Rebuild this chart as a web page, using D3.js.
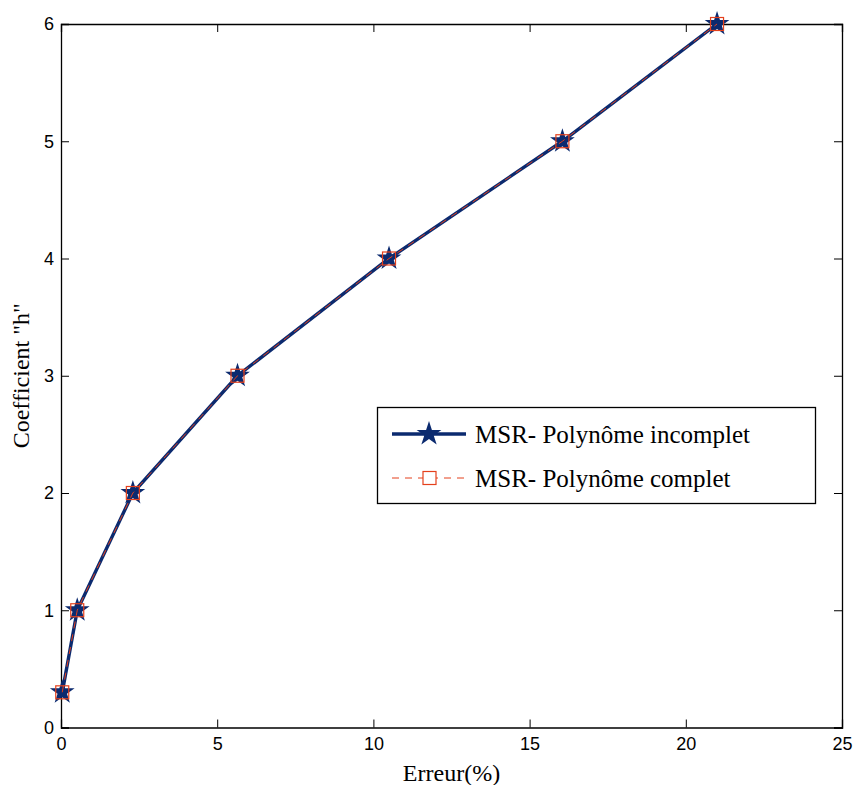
<!DOCTYPE html>
<html><head><meta charset="utf-8">
<script src="https://cdn.jsdelivr.net/npm/d3@7"></script>
<style>body{margin:0;background:#fff}</style>
</head><body>
<svg id="c" width="855" height="785"></svg>
<script>
const errIncomplet = [0.04, 0.52, 2.3, 5.65, 10.5, 16.05, 21.0];
const hIncomplet   = [0.3, 1, 2, 3, 4, 5, 6];
const errComplet   = [0.04, 0.52, 2.3, 5.65, 10.5, 16.05, 21.0];
const hComplet     = [0.3, 1, 2, 3, 4, 5, 6];
const xTicks = [0, 5, 10, 15, 20, 25];
const yTicks = [0, 1, 2, 3, 4, 5, 6];
const seriesNames = ["MSR- Polynôme incomplet", "MSR- Polynôme complet"];
const xLabel = "Erreur(%)";
const yLabel = "Coefficient \"h\"";

const svg = d3.select("#c");
const L = 61, R = 842, T = 24, B = 727.5;
const x = d3.scaleLinear().domain([0, 25]).range([L, R]);
const y = d3.scaleLinear().domain([0, 6]).range([B, T]);
const navy = "#0b2a6f", red = "#e4401c";
const serif = "Liberation Serif, Times New Roman, serif";
const sans = "Liberation Sans, Arial, sans-serif";

// axes
const g = svg.append("g");
g.append("g").attr("transform", `translate(0,${B})`)
  .call(d3.axisBottom(x).tickValues(xTicks).tickSize(-8).tickPadding(10).tickFormat(d3.format("d")));
g.append("g").attr("transform", `translate(0,${T})`)
  .call(d3.axisTop(x).tickValues(xTicks).tickSize(-8).tickFormat(""));
g.append("g").attr("transform", `translate(${L},0)`)
  .call(d3.axisLeft(y).tickValues(yTicks).tickSize(-8).tickPadding(7).tickFormat(d3.format("d")));
g.append("g").attr("transform", `translate(${R},0)`)
  .call(d3.axisRight(y).tickValues(yTicks).tickSize(-8).tickFormat(""));
g.selectAll("g").attr("font-family", sans).attr("font-size", 18);
g.selectAll(".domain").attr("stroke", "#000").attr("stroke-width", 1.3);
g.selectAll(".tick line").attr("stroke", "#000").attr("stroke-width", 1);
g.selectAll(".tick text").style("font-family", sans).style("font-size", "18px").attr("fill", "#000");

// axis labels
svg.append("text").attr("x", (L + R) / 2).attr("y", 781).attr("text-anchor", "middle")
  .style("font-family", serif).style("font-size", "24px").text(xLabel);
svg.append("text").attr("transform", `translate(29,${(T + B) / 2}) rotate(-90)`).attr("text-anchor", "middle")
  .style("font-family", serif).style("font-size", "24px").text(yLabel);

const star = d3.symbol().type(d3.symbolStar).size(190);
const line = d3.line().x(d => x(d[0])).y(d => y(d[1]));

const d1 = errIncomplet.map((v, i) => [v, hIncomplet[i]]);
const d2 = errComplet.map((v, i) => [v, hComplet[i]]);

svg.append("path").datum(d1).attr("d", line).attr("fill", "none").attr("stroke", navy).attr("stroke-width", 3.4);
svg.selectAll(".star").data(d1).enter().append("path")
  .attr("d", star).attr("transform", d => `translate(${x(d[0])},${y(d[1])})`).attr("fill", navy);
svg.append("path").datum(d2).attr("d", line).attr("fill", "none").attr("stroke", red).attr("stroke-width", 1)
  .attr("stroke-dasharray", "7,6");
svg.selectAll(".sq").data(d2).enter().append("rect")
  .attr("x", d => x(d[0]) - 6.5).attr("y", d => y(d[1]) - 6.5).attr("width", 13).attr("height", 13)
  .attr("fill", "none").attr("stroke", red).attr("stroke-width", 1.2);

// legend
const lg = svg.append("g");
lg.append("rect").attr("x", 377.5).attr("y", 407.5).attr("width", 438).attr("height", 96)
  .attr("fill", "#fff").attr("stroke", "#000").attr("stroke-width", 1.3);
lg.append("line").attr("x1", 392).attr("x2", 466).attr("y1", 434).attr("y2", 434).attr("stroke", navy).attr("stroke-width", 3.4);
lg.append("path").attr("d", star).attr("transform", "translate(429,434)").attr("fill", navy);
lg.append("line").attr("x1", 392).attr("x2", 466).attr("y1", 478).attr("y2", 478).attr("stroke", red).attr("stroke-width", 1).attr("stroke-dasharray", "7,6");
lg.append("rect").attr("x", 423).attr("y", 471.5).attr("width", 13).attr("height", 13).attr("fill", "#fff").attr("stroke", red).attr("stroke-width", 1.2);
lg.selectAll(".lt").data(seriesNames).enter().append("text")
  .attr("x", 475).attr("y", (d, i) => 443 + i * 44)
  .style("font-family", serif).style("font-size", "25px").text(d => d);
</script>
</body></html>
